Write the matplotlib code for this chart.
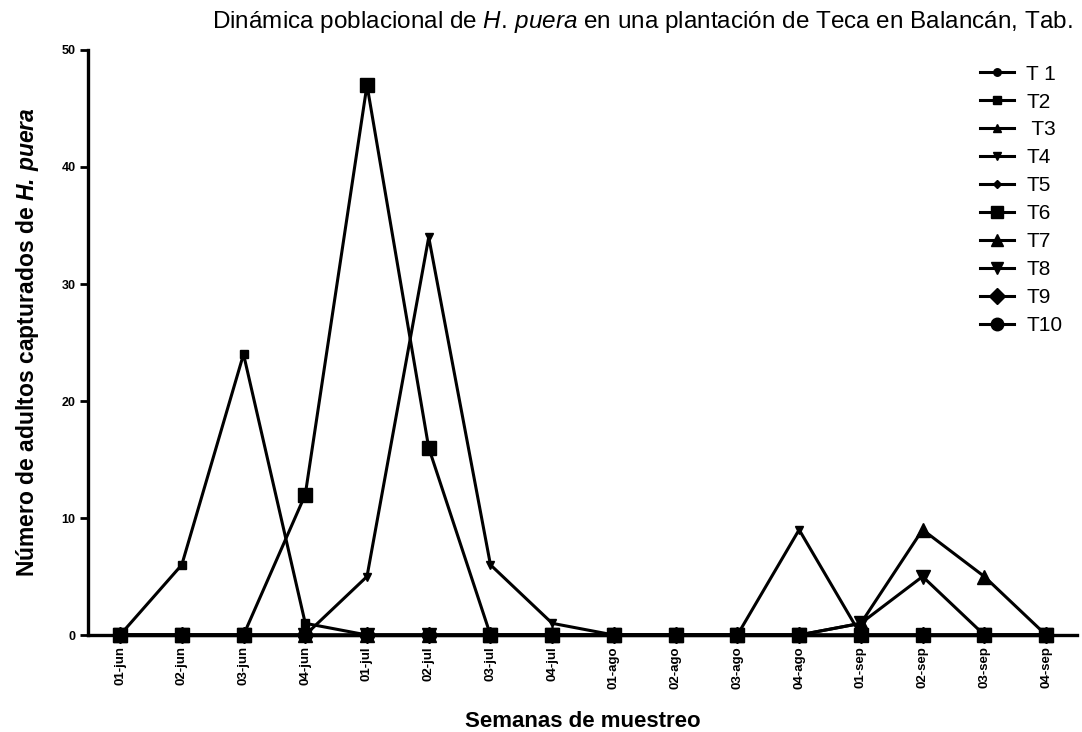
import numpy as np
import matplotlib
matplotlib.use("Agg")
import matplotlib.pyplot as plt

plt.rcParams['font.family'] = ['Liberation Sans', 'DejaVu Sans']
plt.rcParams['mathtext.fontset'] = 'custom'
plt.rcParams['mathtext.rm'] = 'Liberation Sans'
plt.rcParams['mathtext.it'] = 'Liberation Sans:italic'
plt.rcParams['mathtext.bf'] = 'Liberation Sans:bold:italic'

# Sampling weeks
weeks = ['01-jun', '02-jun', '03-jun', '04-jun', '01-jul', '02-jul', '03-jul', '04-jul',
         '01-ago', '02-ago', '03-ago', '04-ago', '01-sep', '02-sep', '03-sep', '04-sep']

# Adults captured per treatment
t1 = [0, 0, 0, 0, 0, 0, 0, 0, 0, 0, 0, 0, 0, 0, 0, 0]
t2 = [0, 6, 24, 1, 0, 0, 0, 0, 0, 0, 0, 0, 0, 0, 0, 0]
t3 = [0, 0, 0, 0, 0, 0, 0, 0, 0, 0, 0, 0, 0, 0, 0, 0]
t4 = [0, 0, 0, 0, 5, 34, 6, 1, 0, 0, 0, 9, 0, 0, 0, 0]
t5 = [0, 0, 0, 0, 0, 0, 0, 0, 0, 0, 0, 0, 0, 0, 0, 0]
t6 = [0, 0, 0, 12, 47, 16, 0, 0, 0, 0, 0, 0, 0, 0, 0, 0]
t7 = [0, 0, 0, 0, 0, 0, 0, 0, 0, 0, 0, 0, 1, 9, 5, 0]
t8 = [0, 0, 0, 0, 0, 0, 0, 0, 0, 0, 0, 0, 1, 5, 0, 0]
t9 = [0, 0, 0, 0, 0, 0, 0, 0, 0, 0, 0, 0, 0, 0, 0, 0]
t10 = [0, 0, 0, 0, 0, 0, 0, 0, 0, 0, 0, 0, 0, 0, 0, 0]

labels = ['T 1', 'T2', ' T3', 'T4', 'T5', 'T6', 'T7', 'T8', 'T9', 'T10']
series = [t1, t2, t3, t4, t5, t6, t7, t8, t9, t10]
markers = ['o', 's', '^', 'v', 'D', 's', '^', 'v', 'D', 'o']
sizes = [6, 6, 6, 6, 5, 10, 10, 10, 8.5, 10]

fig = plt.figure(figsize=(10.82, 7.32), dpi=100)
ax = fig.add_axes([0.0813, 0.1325, 0.914, 0.7992])

x = np.arange(len(weeks))
for vals, lab, mk, ms in zip(series, labels, markers, sizes):
    ax.plot(x, vals, color='black', lw=2.2, marker=mk, ms=ms, label=lab,
            clip_on=False)

ax.set_xlim(-0.52, 15.5)
ax.set_ylim(0, 50)
ax.set_yticks([0, 10, 20, 30, 40, 50])
ax.set_xticks(x)
ax.set_xticklabels(weeks, rotation=90, fontsize=9.5, fontweight='bold')
for lbl in ax.get_yticklabels():
    lbl.set_fontsize(9)
    lbl.set_fontweight('bold')
ax.tick_params(axis='x', length=0, pad=8)
ax.tick_params(axis='y', length=6, width=2, pad=3)
for side in ['top', 'right']:
    ax.spines[side].set_visible(False)
for side in ['left', 'bottom']:
    ax.spines[side].set_linewidth(2.4)

ax.set_xlabel('Semanas de muestreo', fontsize=16, fontweight='bold', labelpad=16)
ax.set_ylabel(r'Número de adultos capturados de $\mathbf{H.\,puera}$',
              fontsize=16.5, fontweight='bold')
ax.yaxis.set_label_coords(-0.047, 0.5)

fig.text(0.991, 0.97,
         r'Dinámica poblacional de $\mathit{H.\,puera}$ en una plantación de Teca en Balancán, Tab.',
         ha='right', va='center', fontsize=17.5)

ax.legend(loc='upper right', bbox_to_anchor=(1.0, 1.0), frameon=False,
          fontsize=15, handlelength=1.6, labelspacing=0.43, handletextpad=0.6,
          markerscale=0.9, borderaxespad=0.3)

fig.savefig('out.png', dpi=100)
